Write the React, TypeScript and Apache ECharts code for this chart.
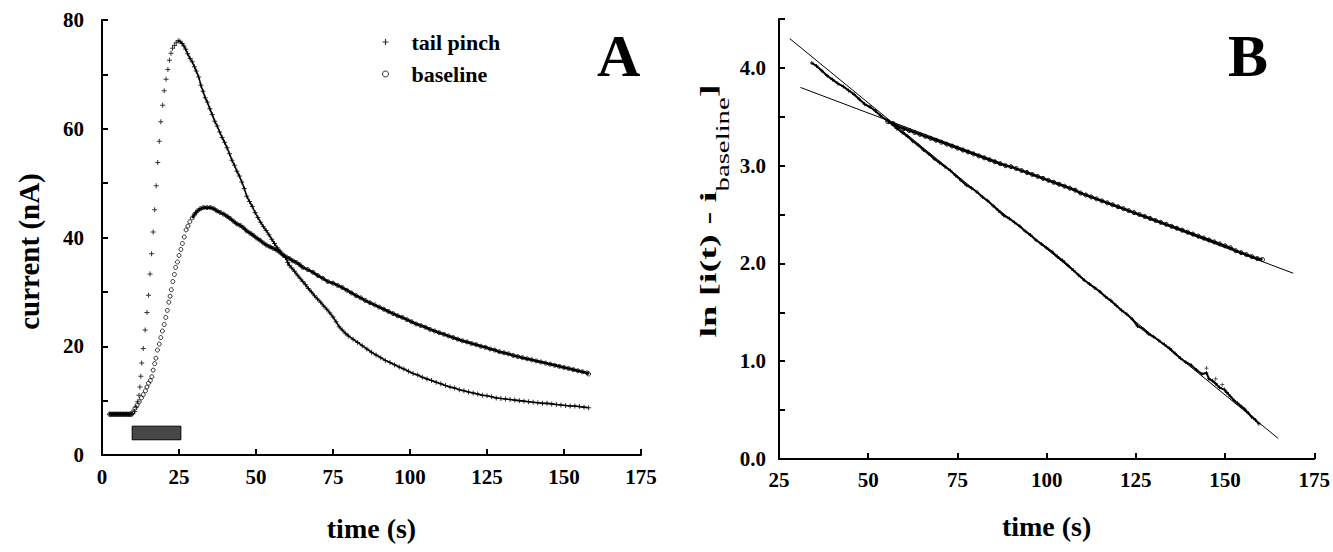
import React, { useEffect, useRef } from 'react';
import * as echarts from 'echarts';

// ---------- Panel A data: current (nA) vs time (s) ----------
const tailPinchA: number[][] = [
  [2.5, 7.5], [3, 7.5], [3.5, 7.5], [4, 7.5], [4.5, 7.5], [5, 7.5], [5.5, 7.5], [6, 7.5], [6.5, 7.5], [7, 7.5], [7.5, 7.5], [8, 7.5], [8.5, 7.5], [9, 7.5], [9.5, 7.5],
  [10.0, 7.6], [10.6, 8.0], [11.1, 8.8], [11.6, 9.8], [12.0, 11.0], [12.3, 12.5], [12.6, 14.5], [12.9, 16.9], [13.4, 19.6], [14.0, 23.0], [14.6, 26.2], [15.1, 29.4], [15.6, 33.3], [16.1, 37.0], [16.6, 41.0], [17.1, 45.1], [17.6, 49.5], [18.1, 53.8], [18.6, 57.7], [19.1, 61.3], [19.7, 64.3], [20.2, 67.0], [20.8, 69.1], [21.4, 70.9], [21.9, 72.6], [22.4, 73.9], [22.9, 74.8], [23.5, 75.3], [24.1, 75.8], [24.7, 76.2],
  [25.3, 76.1], [26.0, 75.7], [26.6, 75.2], [27.2, 74.6], [27.8, 73.8], [28.6, 72.9], [29.3, 72.3], [30.0, 71.4], [30.6, 70.6], [31.4, 69.5], [32.1, 68.0], [32.8, 66.9], [33.5, 65.7], [34.2, 64.9], [35.0, 63.7], [35.8, 62.6], [36.6, 61.4], [37.4, 60.5], [38.2, 59.4], [39.0, 58.4], [39.8, 57.5], [40.6, 56.5], [41.4, 55.4], [42.2, 54.2], [43.0, 53.3], [43.8, 52.2], [44.6, 51.3], [45.4, 50.2], [46.2, 49.0], [47.0, 47.6], [47.9, 46.6], [48.8, 45.7], [49.7, 44.6], [50.6, 43.7], [51.5, 42.8], [52.4, 42.0], [53.3, 41.3], [54.2, 40.5], [55.1, 39.7], [56.0, 38.9], [56.9, 38.1], [57.8, 37.5], [58.7, 36.8], [59.6, 36.3], [60.3, 35.4], [60.8, 34.9], [61.6, 34.4], [62.5, 33.8], [63.4, 33.1], [64.3, 32.5], [65.2, 31.9], [66.1, 31.3], [67.0, 30.6], [68.0, 30.0], [69.0, 29.3], [70.0, 28.7], [71.0, 28.1], [72.0, 27.4], [73.0, 26.8], [74.0, 26.1], [75.0, 25.4], [76.0, 24.5], [77.0, 23.6], [78.0, 23.0], [79.0, 22.4], [80.0, 21.9], [81.5, 21.3], [83.0, 20.7], [84.5, 20.1], [86.0, 19.5], [87.5, 18.9], [89.0, 18.4], [90.5, 17.9], [92.0, 17.4], [93.5, 17.0], [95.0, 16.6], [96.5, 16.2], [98.0, 15.8], [99.5, 15.4], [101.0, 15.0], [102.5, 14.7], [104.0, 14.3], [105.5, 14.0], [107.0, 13.7], [108.5, 13.4], [110.0, 13.1], [111.5, 12.8], [113.0, 12.5], [114.5, 12.3], [116.0, 12.0], [117.5, 11.8], [119.0, 11.6], [120.5, 11.4], [122.0, 11.2], [123.5, 11.0], [125.0, 10.9], [126.5, 10.7], [128.0, 10.5], [129.5, 10.4], [131.0, 10.3], [132.5, 10.2], [134.0, 10.1], [135.5, 10.0], [137.0, 9.9], [138.5, 9.8], [140.0, 9.7], [141.5, 9.6], [143.0, 9.5], [144.5, 9.5], [146.0, 9.4], [147.5, 9.3], [149.0, 9.2], [150.5, 9.1], [152.0, 9.0], [153.5, 9.0], [155.0, 8.9], [156.5, 8.8], [158.0, 8.7],
];

const baselineA: number[][] = [
  [2.5, 7.5], [3, 7.5], [3.5, 7.5], [4, 7.5], [4.5, 7.5], [5, 7.5], [5.5, 7.5], [6, 7.5], [6.5, 7.5], [7, 7.5], [7.5, 7.5], [8, 7.5], [8.5, 7.5], [9, 7.5], [9.5, 7.5],
  [10.0, 7.9], [10.7, 8.6], [11.4, 9.2], [12.1, 9.8], [12.8, 10.5], [13.4, 11.1], [14.1, 11.8], [14.6, 12.5], [15.1, 13.2], [15.7, 13.7], [16.2, 14.4], [16.6, 15.6], [17.1, 16.8], [17.5, 17.8], [18.0, 19.3], [18.6, 20.4], [19.1, 21.6], [19.6, 22.8], [20.2, 24.0], [20.7, 25.3], [21.2, 26.6], [21.7, 28.1], [22.1, 29.2], [22.5, 30.4], [23.0, 31.9], [23.5, 33.2], [23.9, 34.5], [24.5, 35.5], [25.0, 36.7], [25.6, 37.8], [26.1, 38.9], [26.7, 40.1], [27.3, 41.4], [27.9, 42.1], [28.5, 42.9], [29.3, 43.6],
  [30.1, 44.3], [31.0, 44.9], [32.0, 45.3], [33.0, 45.5], [34.1, 45.5], [35.2, 45.5], [36.3, 45.3], [37.3, 44.9], [38.4, 44.6], [39.5, 44.3], [40.6, 43.9], [41.6, 43.5], [42.7, 43.0], [43.8, 42.5], [44.9, 42.2], [45.9, 41.8], [47.0, 41.2], [48.1, 40.8], [49.1, 40.4], [50.2, 39.9], [51.3, 39.5], [52.4, 39.0], [53.4, 38.6], [54.5, 38.3], [55.6, 38.0], [56.7, 37.7], [57.7, 37.3], [58.8, 36.8], [59.9, 36.4], [60.9, 36.1], [62.0, 35.7], [63.1, 35.4], [64.2, 35.0], [65.2, 34.5], [66.8, 34.1], [68.5, 33.6], [70.1, 33.0], [71.7, 32.5], [73.3, 31.9], [75.0, 31.6], [76.5, 31.2], [78.0, 30.8], [79.5, 30.3], [81.0, 29.8], [82.5, 29.3], [84.0, 28.9], [85.5, 28.4], [87.0, 28.0], [88.5, 27.6], [90.0, 27.2], [91.5, 26.8], [93.0, 26.4], [94.5, 26.0], [96.0, 25.6], [97.5, 25.3], [99.0, 24.9], [100.5, 24.5], [102.0, 24.1], [103.5, 23.8], [105.0, 23.5], [106.5, 23.1], [108.0, 22.8], [109.5, 22.5], [111.0, 22.2], [112.5, 21.9], [114.0, 21.6], [115.5, 21.3], [117.0, 21.0], [118.5, 20.8], [120.0, 20.5], [121.5, 20.3], [123.0, 20.0], [124.5, 19.8], [126.0, 19.5], [127.5, 19.3], [129.0, 19.0], [130.5, 18.8], [132.0, 18.6], [133.5, 18.3], [135.0, 18.1], [136.5, 17.9], [138.0, 17.7], [139.5, 17.5], [141.0, 17.3], [142.5, 17.1], [144.0, 16.9], [145.5, 16.7], [147.0, 16.5], [148.5, 16.3], [150.0, 16.1], [151.5, 15.9], [153.0, 15.7], [154.5, 15.5], [156.0, 15.3], [157.5, 15.1], [158.0, 14.9],
];

// stimulus (tail pinch) bar: time span and vertical extent in nA
const stimulusBar = { tStart: 9.8, tEnd: 25.6, low: 2.8, high: 5.3 };

// ---------- Panel B data: ln[i(t) - i_baseline] vs time (s) ----------
const tailPinchB: number[][] = [
  [34.2, 4.05], [35.5, 4.02], [37.0, 3.97], [38.5, 3.92], [40.0, 3.88], [41.5, 3.84], [43.0, 3.81], [44.5, 3.77], [46.0, 3.73], [47.5, 3.68], [49.0, 3.63], [50.5, 3.60], [52.0, 3.56], [53.5, 3.51], [55.0, 3.47], [56.5, 3.43], [58.0, 3.38], [59.5, 3.34], [61.0, 3.30], [62.5, 3.25], [64.0, 3.21], [65.5, 3.16], [67.0, 3.12], [68.5, 3.07], [70.0, 3.03], [71.5, 2.99], [73.0, 2.95], [74.5, 2.90], [76.0, 2.85], [77.5, 2.80], [79.0, 2.77], [80.5, 2.73], [82.0, 2.68], [83.5, 2.64], [85.0, 2.59], [86.5, 2.54], [88.0, 2.49], [89.5, 2.46], [91.0, 2.42], [92.5, 2.38], [94.0, 2.33], [95.5, 2.29], [97.0, 2.24], [98.5, 2.20], [100.0, 2.16], [101.5, 2.12], [103.0, 2.07], [104.5, 2.03], [106.0, 1.98], [107.5, 1.93], [109.0, 1.88], [110.5, 1.83], [112.0, 1.79], [113.5, 1.75], [115.0, 1.71], [116.5, 1.66], [118.0, 1.62], [119.5, 1.57], [121.0, 1.52], [122.5, 1.48], [124.0, 1.43], [125.5, 1.36], [127.0, 1.33], [128.5, 1.28], [130.0, 1.25], [131.5, 1.21], [133.0, 1.17], [134.5, 1.13], [136.0, 1.08], [137.5, 1.03], [139.0, 0.99], [140.5, 0.96], [142.0, 0.91], [143.5, 0.87], [144.8, 0.88], [145.5, 0.82], [146.5, 0.80], [147.4, 0.77], [148.5, 0.73], [149.8, 0.71], [150.5, 0.68], [151.5, 0.64], [152.5, 0.60], [153.5, 0.57], [154.5, 0.54], [155.5, 0.51], [156.5, 0.47], [157.5, 0.43], [158.5, 0.40], [159.5, 0.36],
];

// a few scattered outlying tail-pinch points near 145–150 s
const tailPinchOutliersB: number[][] = [[144.8, 0.93], [147.4, 0.82], [149.2, 0.76]];

const baselineB: number[][] = [
  [55.5, 3.45], [57.0, 3.43], [58.5, 3.40], [60.0, 3.38], [61.5, 3.36], [63.0, 3.34], [64.5, 3.32], [66.0, 3.30], [67.5, 3.28], [69.0, 3.26], [70.5, 3.24], [72.0, 3.22], [73.5, 3.20], [75.0, 3.18], [76.5, 3.16], [78.0, 3.14], [79.5, 3.12], [81.0, 3.10], [82.5, 3.08], [84.0, 3.06], [85.5, 3.04], [87.0, 3.02], [88.5, 3.00], [90.0, 2.99], [91.5, 2.97], [93.0, 2.95], [94.5, 2.93], [96.0, 2.91], [97.5, 2.89], [99.0, 2.87], [100.5, 2.85], [102.0, 2.83], [103.5, 2.81], [105.0, 2.79], [106.5, 2.77], [108.0, 2.75], [109.5, 2.72], [111.0, 2.70], [112.5, 2.68], [114.0, 2.66], [115.5, 2.64], [117.0, 2.62], [118.5, 2.60], [120.0, 2.58], [121.5, 2.56], [123.0, 2.54], [124.5, 2.52], [126.0, 2.50], [127.5, 2.48], [129.0, 2.46], [130.5, 2.44], [132.0, 2.42], [133.5, 2.40], [135.0, 2.38], [136.5, 2.36], [138.0, 2.34], [139.5, 2.32], [141.0, 2.30], [142.5, 2.28], [144.0, 2.26], [145.5, 2.24], [147.0, 2.22], [148.5, 2.20], [150.0, 2.18], [151.5, 2.16], [153.0, 2.13], [154.5, 2.11], [156.0, 2.09], [157.5, 2.07], [159.0, 2.05], [160.5, 2.04],
];

// fitted straight lines (end points)
const tailPinchFitB: number[][] = [[28.0, 4.30], [164.9, 0.21]];
const baselineFitB: number[][] = [[31.0, 3.80], [169.1, 1.90]];

// axis tick labels
const xTickLabelsA = ['0', '25', '50', '75', '100', '125', '150', '175'];
const yTickLabelsA = ['0', '20', '40', '60', '80'];
const xTickLabelsB = ['25', '50', '75', '100', '125', '150', '175'];
const yTickLabelsB = ['0.0', '1.0', '2.0', '3.0', '4.0'];

const FONT = "'Liberation Serif', 'Times New Roman', serif";
const PLUS = 'path://M4,0H6V4H10V6H6V10H4V6H0V4H4Z';
const HOLLOW = { color: 'rgba(0,0,0,0)', borderColor: '#000', borderWidth: 1 };

const App: React.FC = () => {
  const ref = useRef<HTMLDivElement>(null);

  useEffect(() => {
    if (!ref.current) return;
    const chart = echarts.init(ref.current, undefined, { renderer: 'svg' });

    const axisLine = { lineStyle: { color: '#000', width: 2 } };
    const axisTick = { inside: true, length: 6, lineStyle: { color: '#000', width: 2 } };
    const tickLabel = (list: string[], fmt: (v: number) => string) => ({
      fontFamily: FONT,
      fontWeight: 'bold',
      fontSize: 21,
      color: '#000',
      formatter: (v: number) => (list.includes(fmt(v)) ? fmt(v) : ''),
    });
    const nameStyle = { fontFamily: FONT, fontWeight: 'bold', fontSize: 28, color: '#000' };

    // continuous trace only where the recorded points are packed densely
    const denseTail = tailPinchA.map(([t, v]) => (t < 10 || t >= 24.5 ? [t, v] : [t, '-']));
    const denseBase = baselineA.map(([t, v]) => (t < 10 || t >= 29 ? [t, v] : [t, '-']));

    const option: any = {
      animation: false,
      backgroundColor: '#fff',
      grid: [
        { left: 102, top: 20, width: 539, height: 435 },
        { left: 779, top: 19, width: 537, height: 440 },
      ],
      legend: {
        orient: 'vertical',
        left: 377,
        top: 26,
        itemWidth: 6,
        itemHeight: 6,
        itemGap: 10,
        selectedMode: false,
        textStyle: { fontFamily: FONT, fontWeight: 'bold', fontSize: 22, color: '#000', padding: [0, 0, 0, 18] },
        data: [
          { name: 'tail pinch', icon: PLUS, itemStyle: { color: '#000' } },
          { name: 'baseline', icon: 'circle', itemStyle: HOLLOW },
        ],
      },
      xAxis: [
        {
          gridIndex: 0, type: 'value', min: 0, max: 175, interval: 25,
          name: 'time (s)', nameLocation: 'middle', nameGap: 59, nameTextStyle: nameStyle,
          axisLine, axisTick, splitLine: { show: false },
          axisLabel: { ...tickLabel(xTickLabelsA, (v) => String(v)), margin: 11 },
        },
        {
          gridIndex: 1, type: 'value', min: 25, max: 175, interval: 25,
          name: 'time (s)', nameLocation: 'middle', nameGap: 53, nameTextStyle: nameStyle,
          axisLine, axisTick, splitLine: { show: false },
          axisLabel: { ...tickLabel(xTickLabelsB, (v) => String(v)), margin: 10 },
        },
      ],
      yAxis: [
        {
          gridIndex: 0, type: 'value', min: 0, max: 80, interval: 10,
          name: 'current (nA)', nameLocation: 'middle', nameGap: 59,
          nameTextStyle: { ...nameStyle, fontSize: 29, padding: [0, 28, 0, 0] },
          axisLine, axisTick, splitLine: { show: false },
          axisLabel: { ...tickLabel(yTickLabelsA, (v) => String(v)), margin: 18 },
        },
        {
          gridIndex: 1, type: 'value', min: 0, max: 4.5, interval: 0.5,
          axisLine, axisTick, splitLine: { show: false },
          axisLabel: { ...tickLabel(yTickLabelsB, (v) => v.toFixed(1)), margin: 13 },
        },
      ],
      graphic: [
        { type: 'text', left: 597, top: 26, style: { text: 'A', font: `bold 60px ${FONT}`, fill: '#000' } },
        { type: 'text', left: 1228, top: 26, style: { text: 'B', font: `bold 60px ${FONT}`, fill: '#000' } },
        {
          type: 'text',
          x: 714,
          y: 211,
          rotation: Math.PI / 2,
          scaleX: 1.6,
          style: {
            text: '{m|ln [i(t) - i}{s|baseline}{m|]}',
            align: 'center',
            verticalAlign: 'middle',
            fill: '#000',
            rich: {
              m: { fontFamily: FONT, fontWeight: 'bold', fontSize: 24, fill: '#000', lineHeight: 28, verticalAlign: 'top' },
              s: { fontFamily: FONT, fontWeight: 'normal', fontSize: 18, fill: '#000', padding: [18, 0, 0, 0], verticalAlign: 'bottom' },
            },
          },
        },
      ],
      series: [
        {
          name: 'tail pinch trace', type: 'line', xAxisIndex: 0, yAxisIndex: 0, data: denseTail,
          showSymbol: false, connectNulls: false, lineStyle: { color: '#000', width: 1.6 }, silent: true, z: 2,
        },
        {
          name: 'baseline trace', type: 'line', xAxisIndex: 0, yAxisIndex: 0, data: denseBase,
          showSymbol: false, connectNulls: false, lineStyle: { color: '#000', width: 2.6 }, silent: true, z: 2,
        },
        {
          name: 'tail pinch', type: 'scatter', xAxisIndex: 0, yAxisIndex: 0, data: tailPinchA,
          symbol: PLUS, symbolSize: 5, itemStyle: { color: '#000' }, z: 3,
        },
        {
          name: 'baseline', type: 'scatter', xAxisIndex: 0, yAxisIndex: 0, data: baselineA,
          symbol: 'circle', symbolSize: 4, itemStyle: HOLLOW, z: 3,
          markArea: {
            silent: true,
            itemStyle: { color: '#474747', borderColor: '#000', borderWidth: 1 },
            data: [[
              { coord: [stimulusBar.tStart, stimulusBar.low] },
              { coord: [stimulusBar.tEnd, stimulusBar.high] },
            ]],
          },
        },
        // Panel B
        {
          name: 'tail fit', type: 'line', xAxisIndex: 1, yAxisIndex: 1, data: tailPinchFitB,
          showSymbol: false, lineStyle: { color: '#000', width: 1 }, silent: true, z: 2,
        },
        {
          name: 'baseline fit', type: 'line', xAxisIndex: 1, yAxisIndex: 1, data: baselineFitB,
          showSymbol: false, lineStyle: { color: '#000', width: 1 }, silent: true, z: 2,
        },
        {
          name: 'tail pinch', type: 'line', xAxisIndex: 1, yAxisIndex: 1, data: tailPinchB,
          symbol: PLUS, symbolSize: 4, showSymbol: true,
          itemStyle: { color: '#000' }, lineStyle: { color: '#000', width: 2 }, z: 3,
        },
        {
          name: 'tail pinch', type: 'scatter', xAxisIndex: 1, yAxisIndex: 1, data: tailPinchOutliersB,
          symbol: PLUS, symbolSize: 4, itemStyle: { color: '#000' }, z: 3,
        },
        {
          name: 'baseline', type: 'line', xAxisIndex: 1, yAxisIndex: 1, data: baselineB,
          symbol: 'circle', symbolSize: 4, showSymbol: true,
          itemStyle: HOLLOW, lineStyle: { color: '#000', width: 2.5 }, z: 3,
        },
      ],
    };

    chart.setOption(option);
    return () => chart.dispose();
  }, []);

  return (
    <div
      ref={ref}
      style={{ position: 'fixed', left: 0, top: 0, width: 1333, height: 552, background: '#fff' }}
    />
  );
};

export default App;
